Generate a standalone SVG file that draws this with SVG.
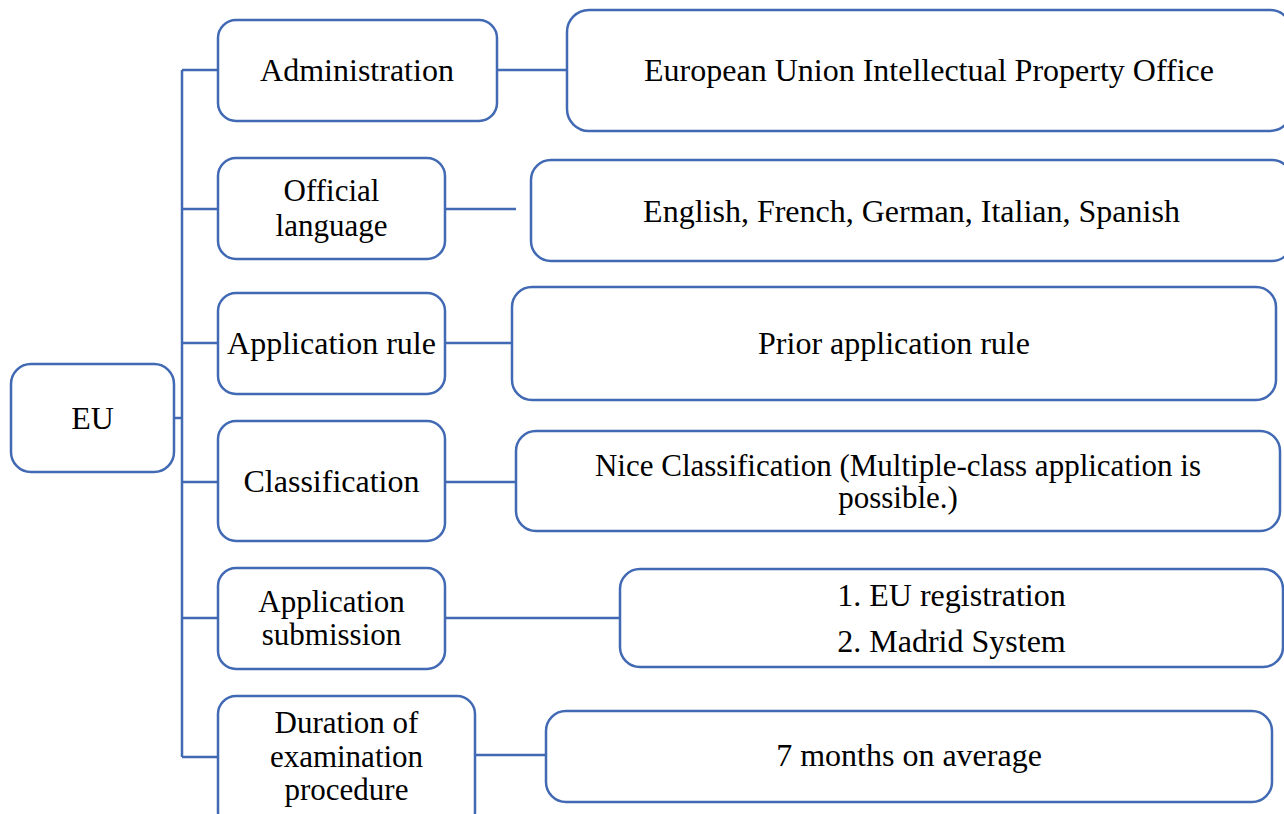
<svg xmlns="http://www.w3.org/2000/svg" width="1284" height="814" viewBox="0 0 1284 814">
<style>
.box{fill:#ffffff;stroke:#4169B4;stroke-width:2.5}
.ln{stroke:#4169B4;stroke-width:2.5;fill:none}
text{font-family:"Liberation Serif","Times New Roman",serif;font-size:32px;fill:#000;text-anchor:middle}
text.m{font-size:31px}
</style>
<rect width="1284" height="814" fill="#ffffff"/>
<g id="connectors">
<path class="ln" d="M182,70 V757"/>
<path class="ln" d="M174,418 H182"/>
<path class="ln" d="M182,70 H218"/>
<path class="ln" d="M182,209 H218"/>
<path class="ln" d="M182,343 H218"/>
<path class="ln" d="M182,482 H218"/>
<path class="ln" d="M182,618 H218"/>
<path class="ln" d="M182,757 H218"/>
<path class="ln" d="M497,70 H567"/>
<path class="ln" d="M445,209 H516"/>
<path class="ln" d="M445,343 H512"/>
<path class="ln" d="M445,482 H516"/>
<path class="ln" d="M445,618 H620"/>
<path class="ln" d="M475,755 H546"/>
</g>
<g id="eu"><rect class="box" x="11" y="364" width="163" height="108" rx="20"/><text x="92.5" y="429">EU</text></g>
<g id="administration"><rect class="box" x="218" y="20" width="279" height="101" rx="18"/><text x="357" y="81">Administration</text></g>
<g id="euipo"><rect class="box" x="567" y="10" width="725" height="121" rx="22"/><text x="929" y="81">European Union Intellectual Property Office</text></g>
<g id="official-language"><rect class="box" x="218" y="158" width="227" height="101" rx="18"/><text class="m" x="331.5" y="201">Official</text><text class="m" x="331.5" y="236">language</text></g>
<g id="languages"><rect class="box" x="531" y="160" width="761" height="101" rx="20"/><text x="911.5" y="222">English, French, German, Italian, Spanish</text></g>
<g id="application-rule"><rect class="box" x="218" y="293" width="227" height="101" rx="18"/><text x="331.5" y="354">Application rule</text></g>
<g id="prior"><rect class="box" x="512" y="287" width="764" height="113" rx="20"/><text x="894" y="354">Prior application rule</text></g>
<g id="classification"><rect class="box" x="218" y="421" width="227" height="120" rx="18"/><text x="331.5" y="492">Classification</text></g>
<g id="nice"><rect class="box" x="516" y="431" width="764" height="100" rx="20"/><text class="m" x="898" y="476">Nice Classification (Multiple-class application is</text><text class="m" x="898" y="508">possible.)</text></g>
<g id="application-submission"><rect class="box" x="218" y="568" width="227" height="101" rx="18"/><text class="m" x="331.5" y="612">Application</text><text class="m" x="331.5" y="645">submission</text></g>
<g id="submission-routes"><rect class="box" x="620" y="569" width="663" height="98" rx="20"/><text x="951.5" y="606">1. EU registration</text><text x="951.5" y="652">2. Madrid System</text></g>
<g id="duration"><rect class="box" x="218" y="696" width="257" height="134" rx="18"/><text class="m" x="346.5" y="733">Duration of</text><text class="m" x="346.5" y="767">examination</text><text class="m" x="346.5" y="800">procedure</text></g>
<g id="average"><rect class="box" x="546" y="711" width="726" height="91" rx="20"/><text x="909" y="766">7 months on average</text></g>
</svg>
